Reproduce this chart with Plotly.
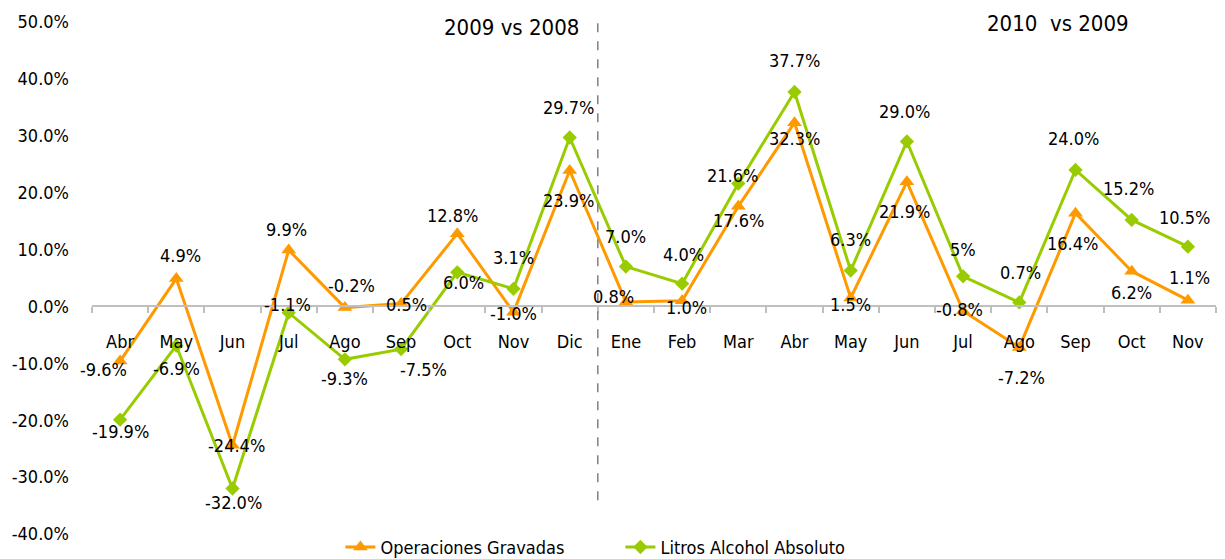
import plotly.graph_objects as go

# ---------------- data ----------------
months = ["Abr", "May", "Jun", "Jul", "Ago", "Sep", "Oct", "Nov", "Dic",
          "Ene", "Feb", "Mar", "Abr", "May", "Jun", "Jul", "Ago", "Sep", "Oct", "Nov"]
operaciones = [-9.6, 4.9, -24.4, 9.9, -0.2, 0.5, 12.8, -1.0, 23.9,
               0.8, 1.0, 17.6, 32.3, 1.5, 21.9, -0.8, -7.2, 16.4, 6.2, 1.1]
litros = [-19.9, -6.9, -32.0, -1.1, -9.3, -7.5, 6.0, 3.1, 29.7,
          7.0, 4.0, 21.6, 37.7, 6.3, 29.0, 5.3, 0.7, 24.0, 15.2, 10.5]
operaciones_labels = [f"{v:.1f}%" for v in operaciones]
litros_labels = [f"{v:.1f}%" for v in litros]
litros_labels[15] = "5%"
y_ticks = [-40, -30, -20, -10, 0, 10, 20, 30, 40, 50]
period_titles = ["2009 vs 2008", "2010\u00a0 vs 2009"]

# ---------------- style (label offsets in px: dx, dy-down) ----------------
op_off = [(-17, 8), (4, -23), (4, 0), (-2, -21), (7, -22), (5, 1), (-5, -18), (0, 1), (-1, 30),
          (-12, -5), (4, 7), (0, 14), (0, 16), (0, 7), (-2, 30), (-4, -2), (2, 30), (-3, 30), (0, 21), (2, -23)]
li_off = [(0, 12), (0, 23), (1, 14), (-1, -8), (0, 19), (22, 20), (6, 10), (0, -31), (-1, -30),
          (0, -30), (1, -29), (-6, -8), (0, -31), (0, -31), (-2, -30), (0, -27), (1, -30), (-2, -31), (-3, -31), (-3, -29)]

ORANGE = "#FF9900"
GREEN = "#99CC00"
FONT = "DejaVu Sans Condensed, Liberation Sans, Arial, sans-serif"

x = list(range(len(months)))

fig = go.Figure()
fig.add_trace(go.Scatter(
    x=x, y=operaciones, mode="lines+markers", name="Operaciones Gravadas",
    line=dict(color=ORANGE, width=3),
    marker=dict(symbol="triangle-up", size=13, color=ORANGE),
))
fig.add_trace(go.Scatter(
    x=x, y=litros, mode="lines+markers", name="Litros Alcohol Absoluto",
    line=dict(color=GREEN, width=3),
    marker=dict(symbol="diamond", size=11, color=GREEN),
))

annotations = []
for i, (v, t) in enumerate(zip(operaciones, operaciones_labels)):
    dx, dy = op_off[i]
    annotations.append(dict(x=i, y=v, xref="x", yref="y", text=t, showarrow=False,
                            xshift=dx, yshift=-dy, font=dict(size=18, color="#000000", family=FONT)))
for i, (v, t) in enumerate(zip(litros, litros_labels)):
    dx, dy = li_off[i]
    annotations.append(dict(x=i, y=v, xref="x", yref="y", text=t, showarrow=False,
                            xshift=dx, yshift=-dy, font=dict(size=18, color="#000000", family=FONT)))

annotations.append(dict(x=0.373, y=0.99, xref="paper", yref="paper", text=period_titles[0],
                        showarrow=False, xanchor="center", yanchor="middle",
                        font=dict(size=22, color="#000000", family=FONT)))
annotations.append(dict(x=0.859, y=0.998, xref="paper", yref="paper", text=period_titles[1],
                        showarrow=False, xanchor="center", yanchor="middle",
                        font=dict(size=22, color="#000000", family=FONT)))

fig.update_layout(
    width=1217, height=551,
    margin=dict(l=84, r=9, t=14, b=25, autoexpand=False),
    paper_bgcolor="white", plot_bgcolor="white",
    font=dict(family=FONT, size=18, color="#000000"),
    annotations=annotations,
    shapes=[dict(type="line", xref="x", yref="paper", x0=8.5, x1=8.5, y0=0.066, y1=1.005,
                 line=dict(color="#808080", width=1.5, dash="dash"))],
    legend=dict(orientation="h", x=0.221, y=-0.026, xanchor="left", yanchor="middle",
                font=dict(size=18, family=FONT), entrywidth=235, entrywidthmode="pixels",
                bgcolor="rgba(0,0,0,0)"),
    showlegend=True,
)
fig.update_xaxes(
    range=[-0.5, len(months) - 0.5], tickmode="array", tickvals=x, ticktext=months,
    anchor="free", position=40 / 90, showline=True, linecolor="#BFBFBF", linewidth=2,
    ticks="", showgrid=False, zeroline=False, ticklabelstandoff=19,
    tickfont=dict(size=18, family=FONT, color="#000000"),
    minor=dict(tickmode="array", tickvals=[i - 0.5 for i in range(len(months) + 1)],
               ticks="outside", ticklen=6, tickwidth=2, tickcolor="#BFBFBF", showgrid=False),
)
fig.update_yaxes(
    range=[-40, 50], tickmode="array", tickvals=y_ticks,
    ticktext=[f"{v:.1f}%" for v in y_ticks],
    showline=False, showgrid=False, zeroline=False, ticks="", ticklabelstandoff=22,
    tickfont=dict(size=18, family=FONT, color="#000000"),
)

fig.write_html("out.html")
